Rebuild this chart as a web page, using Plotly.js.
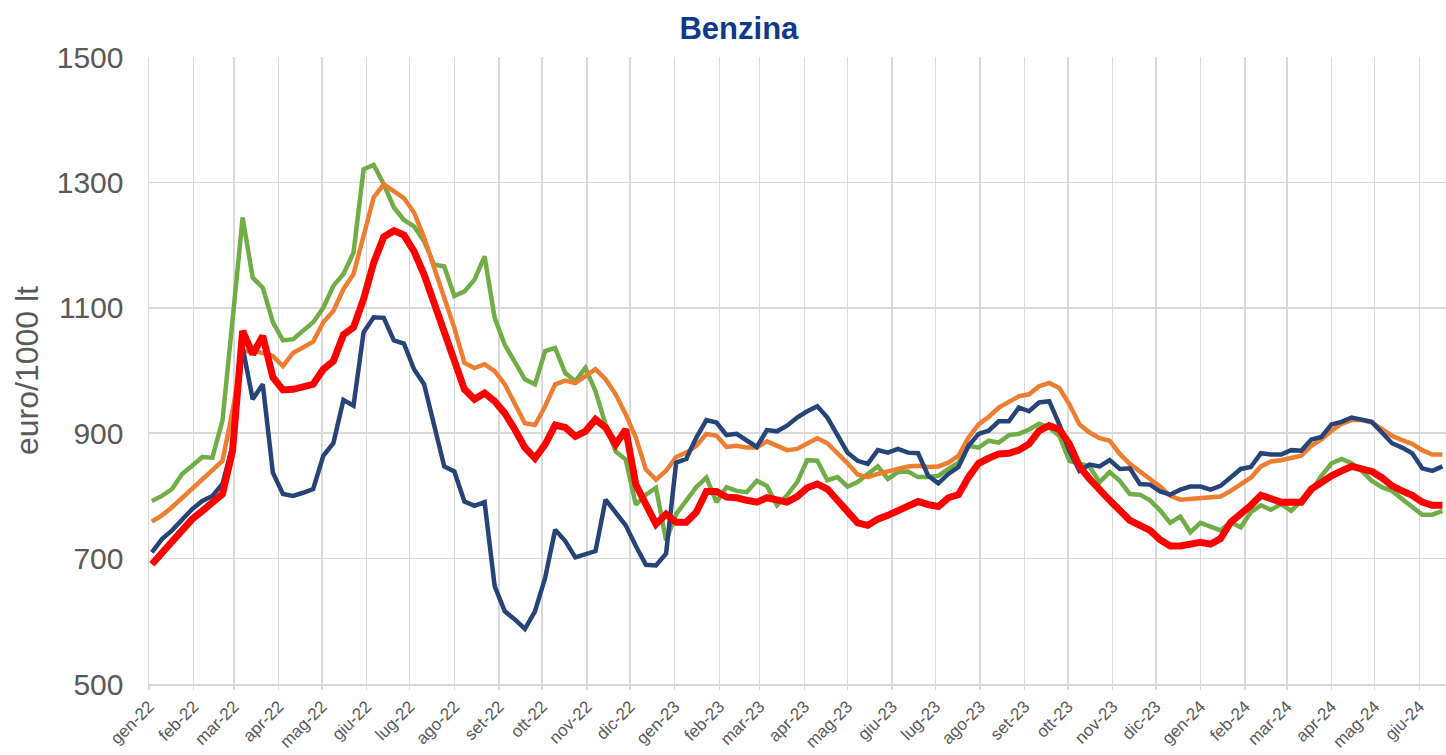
<!DOCTYPE html>
<html>
<head>
<meta charset="utf-8">
<script src="https://cdn.plot.ly/plotly-3.0.1.min.js"></script>
<style>
  html, body { margin: 0; padding: 0; background: #ffffff; }
  #chart { width: 1446px; height: 755px; }
</style>
</head>
<body>
<div id="chart"></div>
<script>
// Weekly observations (Mondays), first week 2022-01-03
const firstWeek = '2022-01-03';
const weeksCount = 129;

const seriesGreen = [
  792, 800, 811, 835, 848, 862, 861, 920, 1080, 1244, 1148, 1132, 1077, 1048, 1050, 1063, 1077, 1100, 1135, 1154, 1188, 1321, 1328, 1297, 1260, 1240,
  1230, 1206, 1169, 1166, 1119, 1126, 1145, 1182, 1084, 1041, 1012, 986, 978, 1031, 1036, 996, 983, 1004, 967, 914, 871, 858, 786, 802, 813,
  729, 771, 793, 814, 829, 790, 814, 808, 806, 824, 816, 785, 801, 822, 857, 856, 825, 830, 815, 822, 835, 847, 827, 838, 839, 830,
  830, 832, 843, 853, 880, 877, 888, 885, 897, 899, 906, 915, 909, 896, 856, 851, 847, 822, 838, 824, 803, 802, 793, 777, 757,
  767, 742, 757, 751, 745, 758, 750, 774, 785, 778, 787, 776, 793, 808, 832, 852, 859, 852, 840, 824, 814, 808, 795, 782, 770, 770, 776
];

const seriesOrange = [
  759, 769, 782, 797, 813, 827, 841, 856, 935, 1030, 1031, 1028, 1023, 1007, 1028, 1038, 1046, 1077, 1095, 1130, 1154, 1215, 1276, 1297, 1287, 1275,
  1252, 1212, 1164, 1116, 1068, 1012, 1004, 1010, 999, 978, 946, 916, 913, 943, 978, 984, 980, 991, 1002, 986, 962, 930, 893, 842, 826,
  840, 862, 869, 880, 899, 896, 878, 880, 877, 877, 887, 880, 873, 875, 884, 892, 884, 869, 852, 834, 830, 835, 839, 844, 847, 848,
  846, 847, 853, 864, 893, 914, 926, 941, 951, 959, 962, 975, 980, 972, 946, 914, 901, 892, 888, 867, 851, 838, 827, 815, 800,
  794, 795, 797, 797, 799, 808, 819, 829, 847, 855, 857, 861, 864, 880, 890, 904, 915, 921, 921, 917, 906, 896, 889, 883, 873, 866, 866
];

const seriesBlue = [
  710, 731, 745, 763, 779, 792, 800, 819, 880, 1037, 954, 978, 837, 803, 800, 805, 811, 864, 884, 953, 944, 1061, 1085, 1084, 1048, 1043,
  1002, 978, 914, 847, 839, 791, 784, 790, 656, 616, 603, 588, 616, 669, 746, 728, 702, 707, 712, 794, 773, 753, 720, 690, 689,
  708, 853, 859, 893, 921, 917, 897, 899, 889, 878, 905, 903, 912, 925, 935, 943, 925, 896, 869, 856, 851, 873, 869, 875, 869, 868,
  832, 820, 835, 846, 880, 899, 904, 919, 919, 941, 935, 949, 951, 914, 872, 840, 850, 847, 857, 843, 844, 819, 818, 807, 802,
  810, 815, 815, 810, 816, 829, 843, 846, 868, 866, 866, 873, 872, 890, 894, 914, 918, 925, 922, 918, 901, 884, 877, 868, 844, 840, 847
];

const seriesRed = [
  691, 710, 728, 744, 763, 776, 789, 803, 872, 1063, 1026, 1055, 989, 969, 970, 974, 978, 1002, 1015, 1057, 1069, 1114, 1172, 1213, 1223, 1216,
  1190, 1153, 1108, 1057, 1020, 970, 954, 964, 951, 932, 906, 877, 860, 882, 913, 909, 895, 903, 922, 909, 882, 906, 818, 786, 755,
  771, 758, 758, 774, 807, 807, 798, 797, 793, 790, 797, 793, 790, 799, 813, 819, 811, 793, 774, 757, 753, 763, 769, 777, 785, 791,
  786, 783, 797, 802, 830, 852, 860, 867, 868, 873, 883, 904, 912, 906, 883, 847, 827, 808, 793, 777, 761, 753, 745, 730, 720,
  720, 724, 726, 723, 732, 758, 771, 785, 801, 795, 790, 790, 790, 811, 822, 832, 840, 847, 843, 839, 829, 816, 808, 801, 790, 785, 785
];

const tickDates = [
  '2022-01-01','2022-02-01','2022-03-01','2022-04-01','2022-05-01','2022-06-01',
  '2022-07-01','2022-08-01','2022-09-01','2022-10-01','2022-11-01','2022-12-01',
  '2023-01-01','2023-02-01','2023-03-01','2023-04-01','2023-05-01','2023-06-01',
  '2023-07-01','2023-08-01','2023-09-01','2023-10-01','2023-11-01','2023-12-01',
  '2024-01-01','2024-02-01','2024-03-01','2024-04-01','2024-05-01','2024-06-01'
];
const tickLabels = [
  'gen-22','feb-22','mar-22','apr-22','mag-22','giu-22','lug-22','ago-22','set-22','ott-22','nov-22','dic-22',
  'gen-23','feb-23','mar-23','apr-23','mag-23','giu-23','lug-23','ago-23','set-23','ott-23','nov-23','dic-23',
  'gen-24','feb-24','mar-24','apr-24','mag-24','giu-24'
];
const yTicks = [500, 700, 900, 1100, 1300, 1500];

// weekly date axis
const weekDates = [];
(function () {
  const d0 = new Date(firstWeek + 'T00:00:00Z');
  for (let i = 0; i < weeksCount; i++) {
    const d = new Date(d0.getTime() + i * 7 * 86400000);
    weekDates.push(d.toISOString().slice(0, 10));
  }
})();

const traces = [
  { name: 'Serie verde', y: seriesGreen, color: '#70AD47', width: 4.5 },
  { name: 'Serie arancio', y: seriesOrange, color: '#ED7D31', width: 4.5 },
  { name: 'Serie blu', y: seriesBlue, color: '#264478', width: 4.5 },
  { name: 'Serie rossa', y: seriesRed, color: '#FF0000', width: 7 }
].map(s => ({
  type: 'scatter', mode: 'lines', name: s.name,
  x: weekDates, y: s.y,
  line: { color: s.color, width: s.width, shape: 'linear' },
  hoverinfo: 'x+y+name'
}));

const layout = {
  width: 1446, height: 755,
  margin: { l: 149, r: 0, t: 57, b: 71, pad: 0 },
  paper_bgcolor: '#ffffff', plot_bgcolor: '#ffffff',
  showlegend: false,
  font: { family: 'Liberation Sans, Arial, sans-serif', color: '#595959' },
  title: {
    text: '<b>Benzina</b>',
    font: { family: 'Liberation Sans, Arial, sans-serif', size: 31, color: '#0E3A8C' },
    xref: 'container', x: 0.511, xanchor: 'center',
    yref: 'container', y: 0.963, yanchor: 'middle'
  },
  xaxis: {
    type: 'date',
    range: ['2022-01-01', '2024-06-19 12:00'],
    tickmode: 'array', tickvals: tickDates, ticktext: tickLabels,
    tickangle: -45,
    tickfont: { size: 17, color: '#595959' },
    showgrid: true, gridcolor: '#D9D9D9', gridwidth: 1.5,
    showline: true, linecolor: '#D9D9D9', linewidth: 2,
    ticks: 'outside', ticklen: 4, tickcolor: '#D9D9D9', tickwidth: 1.5,
    zeroline: false, fixedrange: true
  },
  yaxis: {
    range: [500, 1500],
    tickmode: 'array', tickvals: yTicks,
    tickfont: { size: 30, color: '#595959' },
    showgrid: true, gridcolor: '#D9D9D9', gridwidth: 1.5,
    showline: true, linecolor: '#D9D9D9', linewidth: 1.5,
    ticks: '', ticklabelstandoff: 18,
    zeroline: false, fixedrange: true,
    title: { text: 'euro/1000 lt', font: { size: 32, color: '#595959' }, standoff: 8 }
  }
};

Plotly.newPlot('chart', traces, layout, { displayModeBar: false, staticPlot: true });
</script>
</body>
</html>
